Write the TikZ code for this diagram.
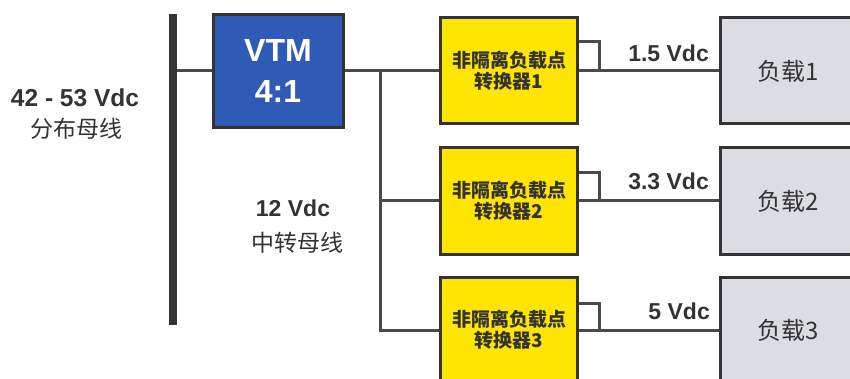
\documentclass[tikz,border=0pt]{standalone}
\usepackage{fontspec}
\setmainfont{Liberation Sans}
\newfontfamily\cjk{Noto Sans CJK SC}
\definecolor{busc}{HTML}{333333}
\definecolor{linec}{HTML}{4A4A4A}
\definecolor{vtmblue}{HTML}{2F5BB7}
\definecolor{convyellow}{HTML}{FFE500}
\definecolor{loadgray}{HTML}{DCDDE2}
\definecolor{txt}{HTML}{333333}
\tikzset{
  box/.style={draw=busc, line width=3pt, inner sep=0pt},
  vtmbox/.style={box, fill=vtmblue, minimum width=130pt, minimum height=113pt, text=white, align=center, font=\fontsize{32}{40}\selectfont\bfseries},
  convbox/.style={box, fill=convyellow, minimum width=137pt, minimum height=106pt, text=txt, align=center, font=\cjk\bfseries\fontsize{19}{21}\selectfont},
  loadbox/.style={box, fill=loadgray, minimum width=137pt, minimum height=106pt, text=txt, font=\cjk\fontsize{24}{26}\selectfont},
  wire/.style={draw=linec, line width=3pt},
  vlabel/.style={inner sep=0pt, text=txt, font=\fontsize{23}{26}\selectfont\bfseries},
  cnlabel/.style={inner sep=0pt, text=txt, font=\cjk\fontsize{23}{26}\selectfont},
}
\begin{document}
\begin{tikzpicture}[x=1pt,y=-1pt]
\useasboundingbox (0,0) rectangle (850,379);
% bus bar
\node[fill=busc, inner sep=0pt, minimum width=8pt, minimum height=311pt] (bus) at (173,169.5) {};
% VTM
\node[vtmbox] (vtm) at (278,71) {VTM\\[1pt]4:1};
% converters
\node[convbox] (c1) at (509,71) {非隔离负载点\\转换器1};
\node[convbox] (c2) at (509,201) {非隔离负载点\\转换器2};
\node[convbox] (c3) at (509,330) {非隔离负载点\\转换器3};
% loads
\node[loadbox] (l1) at (788.5,71) {负载1};
\node[loadbox] (l2) at (788.5,201) {负载2};
\node[loadbox] (l3) at (788.5,330) {负载3};
% junction
\coordinate (j1) at (380,71);
\coordinate (j3) at (380,330);
% wires
\draw[wire] (bus.east |- vtm.west) -- (vtm.west);
\draw[wire] (vtm.east) -- (c1.west);
\draw[wire] (j1) -- (j3) -- (c3.west);
\draw[wire] (j1 |- c2.west) -- (c2.west);
\draw[wire] (c1.east) -- (l1.west);
\draw[wire] (c2.east) -- (l2.west);
\draw[wire] (c3.east) -- (l3.west);
% brackets
\draw[wire] ([yshift=29pt]c1.east) -- ++(20,0) -- ++(0,29);
\draw[wire] ([yshift=28pt]c2.east) -- ++(20,0) -- ++(0,28);
\draw[wire] ([yshift=27pt]c3.east) -- ++(20,0) -- ++(0,27);
% voltage labels
\node[vlabel, anchor=base east] (v1) at (709,62) {1.5 Vdc};
\node[vlabel, anchor=base east] (v2) at (709,190) {3.3 Vdc};
\node[vlabel, anchor=base east] (v3) at (710,319) {5 Vdc};
% bus labels
\node[vlabel, anchor=base, font=\fontsize{24.5}{28}\selectfont\bfseries] (b1) at (75,107) {42 - 53 Vdc};
\node[cnlabel] (b2) at (76,129) {分布母线};
\node[vlabel, anchor=base] (m1) at (293,217) {12 Vdc};
\node[cnlabel] (m2) at (297,243) {中转母线};
\end{tikzpicture}
\end{document}
